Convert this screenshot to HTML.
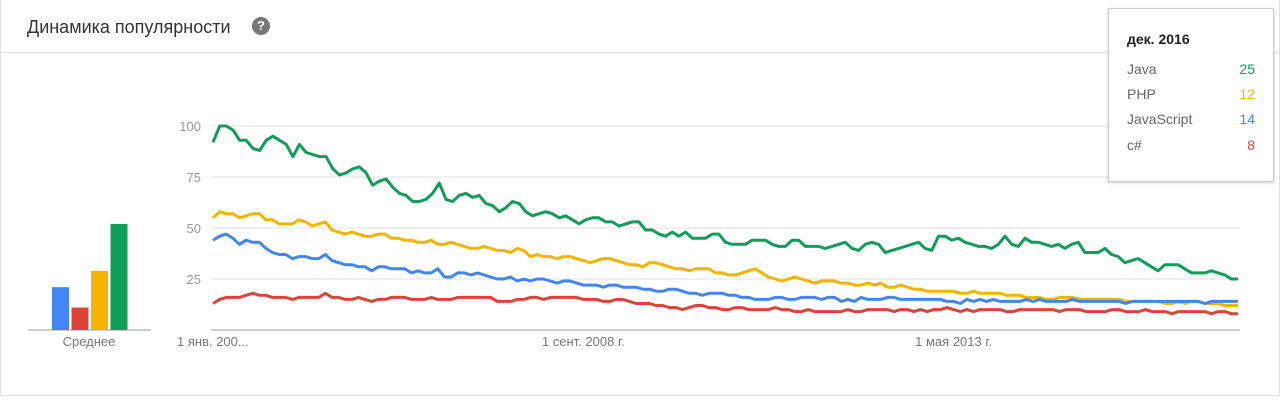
<!DOCTYPE html>
<html><head><meta charset="utf-8"><style>
body{margin:0;width:1280px;height:410px;background:#fff;font-family:"Liberation Sans","DejaVu Sans",sans-serif;overflow:hidden;position:relative}
.card{position:absolute;left:0;top:0;width:1278px;height:395px;border:1px solid #e0e0e0;border-top:none}
.title{position:absolute;left:27px;top:17px;font-size:18px;color:#333}
.help{position:absolute;left:252px;top:17px;width:18px;height:18px;border-radius:50%;background:#777;color:#fff;font-size:13px;font-weight:bold;text-align:center;line-height:18px}
.div{position:absolute;left:0;top:52px;width:1280px;height:1px;background:#e0e0e0}
.tip{position:absolute;left:1108px;top:8px;width:164px;height:172px;background:#fff;border:1px solid #ccc;box-shadow:0 1px 3px rgba(0,0,0,.2)}
.tip .h{position:absolute;left:18px;top:22px;font-size:14px;font-weight:bold;color:#222}
.row{position:absolute;left:18px;width:128px;font-size:14px;color:#666}
.row span{position:absolute;right:0}
</style></head><body>
<div class="card"></div>
<div class="title">Динамика популярности</div>
<div class="help">?</div>
<div class="div"></div>
<svg id="chart" width="1280" height="410" style="position:absolute;left:0;top:0"></svg>
<div class="tip">
<div class="h">дек. 2016</div>
<div class="row" style="top:52px">Java<span style="color:#0f9d58">25</span></div>
<div class="row" style="top:77px">PHP<span style="color:#f4b400">12</span></div>
<div class="row" style="top:102px">JavaScript<span style="color:#4285f4">14</span></div>
<div class="row" style="top:128px">c#<span style="color:#db4437">8</span></div>
</div>
<script>
const yTicks=[25,50,75,100];
const xLabels=["1 янв. 200...","1 сент. 2008 г.","1 мая 2013 г."];
const xLabelIdx=[0,56,112];
const avgNames=["JavaScript","c#","PHP","Java"];
const avgValues=[21,11,29,52];
const java=[92,100,100,98,93,93,89,88,93,95,93,91,85,91,87,86,85,85,79,76,77,79,80,77,71,73,74,70,67,66,63,63,64,67,72,64,63,66,67,65,66,62,61,58,60,63,62,58,56,57,58,57,55,56,54,52,54,55,55,53,53,51,52,53,53,49,49,47,46,48,46,48,45,45,45,47,47,43,42,42,42,44,44,44,42,41,41,44,44,41,41,41,40,41,42,43,40,39,42,43,42,38,39,40,41,42,43,40,39,46,46,44,45,43,42,41,41,40,42,46,42,41,45,43,43,42,41,42,40,42,43,38,38,38,40,37,36,33,34,35,33,31,29,32,32,32,30,28,28,28,29,28,27,25,25];
const php=[55,58,57,57,55,56,57,57,54,54,52,52,52,54,53,51,52,53,49,48,47,48,47,46,46,47,47,45,45,44,44,43,43,44,42,42,43,42,41,40,40,41,40,39,39,38,40,39,36,37,36,36,35,36,36,35,34,33,34,35,35,34,33,32,32,31,33,33,32,31,30,30,29,30,30,30,28,28,27,27,28,29,30,28,26,25,24,25,26,25,24,23,24,24,24,23,23,22,22,23,22,23,21,21,22,21,20,20,19,19,19,19,19,18,18,19,18,18,18,18,17,17,17,16,16,16,15,15,16,16,16,15,15,15,15,15,15,15,14,14,14,14,14,14,13,13,14,13,14,14,13,13,13,12,12,12];
const js=[44,46,47,45,42,44,43,43,40,38,37,37,35,36,36,35,35,37,34,33,32,32,31,31,29,31,31,30,30,30,28,29,28,28,30,26,26,28,28,27,28,27,26,25,25,26,24,25,24,25,25,24,23,24,24,23,22,22,22,21,22,22,21,21,21,20,20,19,19,20,20,19,18,18,17,18,18,18,17,17,16,16,15,15,15,16,16,15,15,16,16,16,15,16,16,14,15,14,16,15,15,15,16,16,15,15,15,15,15,15,15,14,14,13,15,14,15,14,15,14,14,14,14,15,14,15,14,14,14,14,15,14,14,14,14,14,14,14,13,14,14,14,14,14,14,14,14,14,14,14,13,14,14,14,14,14];
const cs=[13,15,16,16,16,17,18,17,17,16,16,16,15,16,16,16,16,18,16,16,15,15,16,15,14,15,15,16,16,16,15,15,15,16,15,15,15,16,16,16,16,16,16,14,14,14,15,15,16,16,15,16,16,16,16,16,15,15,15,14,14,15,15,14,13,13,13,12,12,11,11,10,11,12,12,11,11,10,10,11,11,10,10,10,10,11,10,10,9,9,10,9,9,9,9,9,10,9,9,10,10,10,10,9,10,10,9,10,9,10,10,11,10,9,10,9,10,10,10,10,9,9,10,10,10,10,10,10,9,10,10,10,9,9,9,9,10,10,9,9,9,10,9,9,9,8,9,9,9,9,9,8,9,9,8,8];
const seriesNames=["java","php","javascript","csharp"];
const seriesColors=["#0f9d58","#f4b400","#4285f4","#db4437"];
const series=[java,php,js,cs];
const NS="http://www.w3.org/2000/svg";
const svg=document.getElementById('chart');
const X0=213,X1=1238,Y0=330,PX=2.04,N=156;
function yS(v){return Y0-v*PX;}
function xS(i){return X0+i*(X1-X0)/(N-1);}
function mk(t,a){const e=document.createElementNS(NS,t);for(const k in a)e.setAttribute(k,a[k]);svg.appendChild(e);return e;}
yTicks.forEach(t=>{
 const l=mk('line',{x1:211,x2:1240,y1:yS(t),y2:yS(t),stroke:'#e0e0e0','stroke-width':1});
 
 
 const tx=mk('text',{x:201,y:yS(t)+5,'text-anchor':'end','font-size':13,fill:'#999'});
 tx.textContent=t;
 
 
});
const ax=mk('line',{x1:211,x2:1240,y1:Y0,y2:Y0,stroke:'#999','stroke-width':1});


xLabels.forEach((s,k)=>{
 const tx=mk('text',{x:k==0?177:xS(xLabelIdx[k]),y:346,'text-anchor':k==0?'start':'middle','font-size':13,fill:'#777'});
 tx.textContent=s;
 
 
});
series.forEach((d,s)=>{
 const pts=d.map((v,i)=>xS(i*(N-1)/(d.length-1)).toFixed(1)+','+yS(v).toFixed(1)).join(' ');
 const p=mk('polyline',{points:pts,fill:'none',stroke:seriesColors[s],'stroke-width':3,'stroke-linejoin':'round'});
 
 
});
const ab=mk('line',{x1:28,x2:151,y1:Y0,y2:Y0,stroke:'#999','stroke-width':1});


const avgColors=["#4285f4","#db4437","#f4b400","#0f9d58"];
avgValues.forEach((v,k)=>{
 const r=mk('rect',{x:52+k*19.5,y:yS(v),width:17,height:v*PX,fill:avgColors[k]});
 
 
});
const al=mk('text',{x:89,y:346,'text-anchor':'middle','font-size':13,fill:'#777'});
al.textContent='Среднее';


</script>
</body></html>
